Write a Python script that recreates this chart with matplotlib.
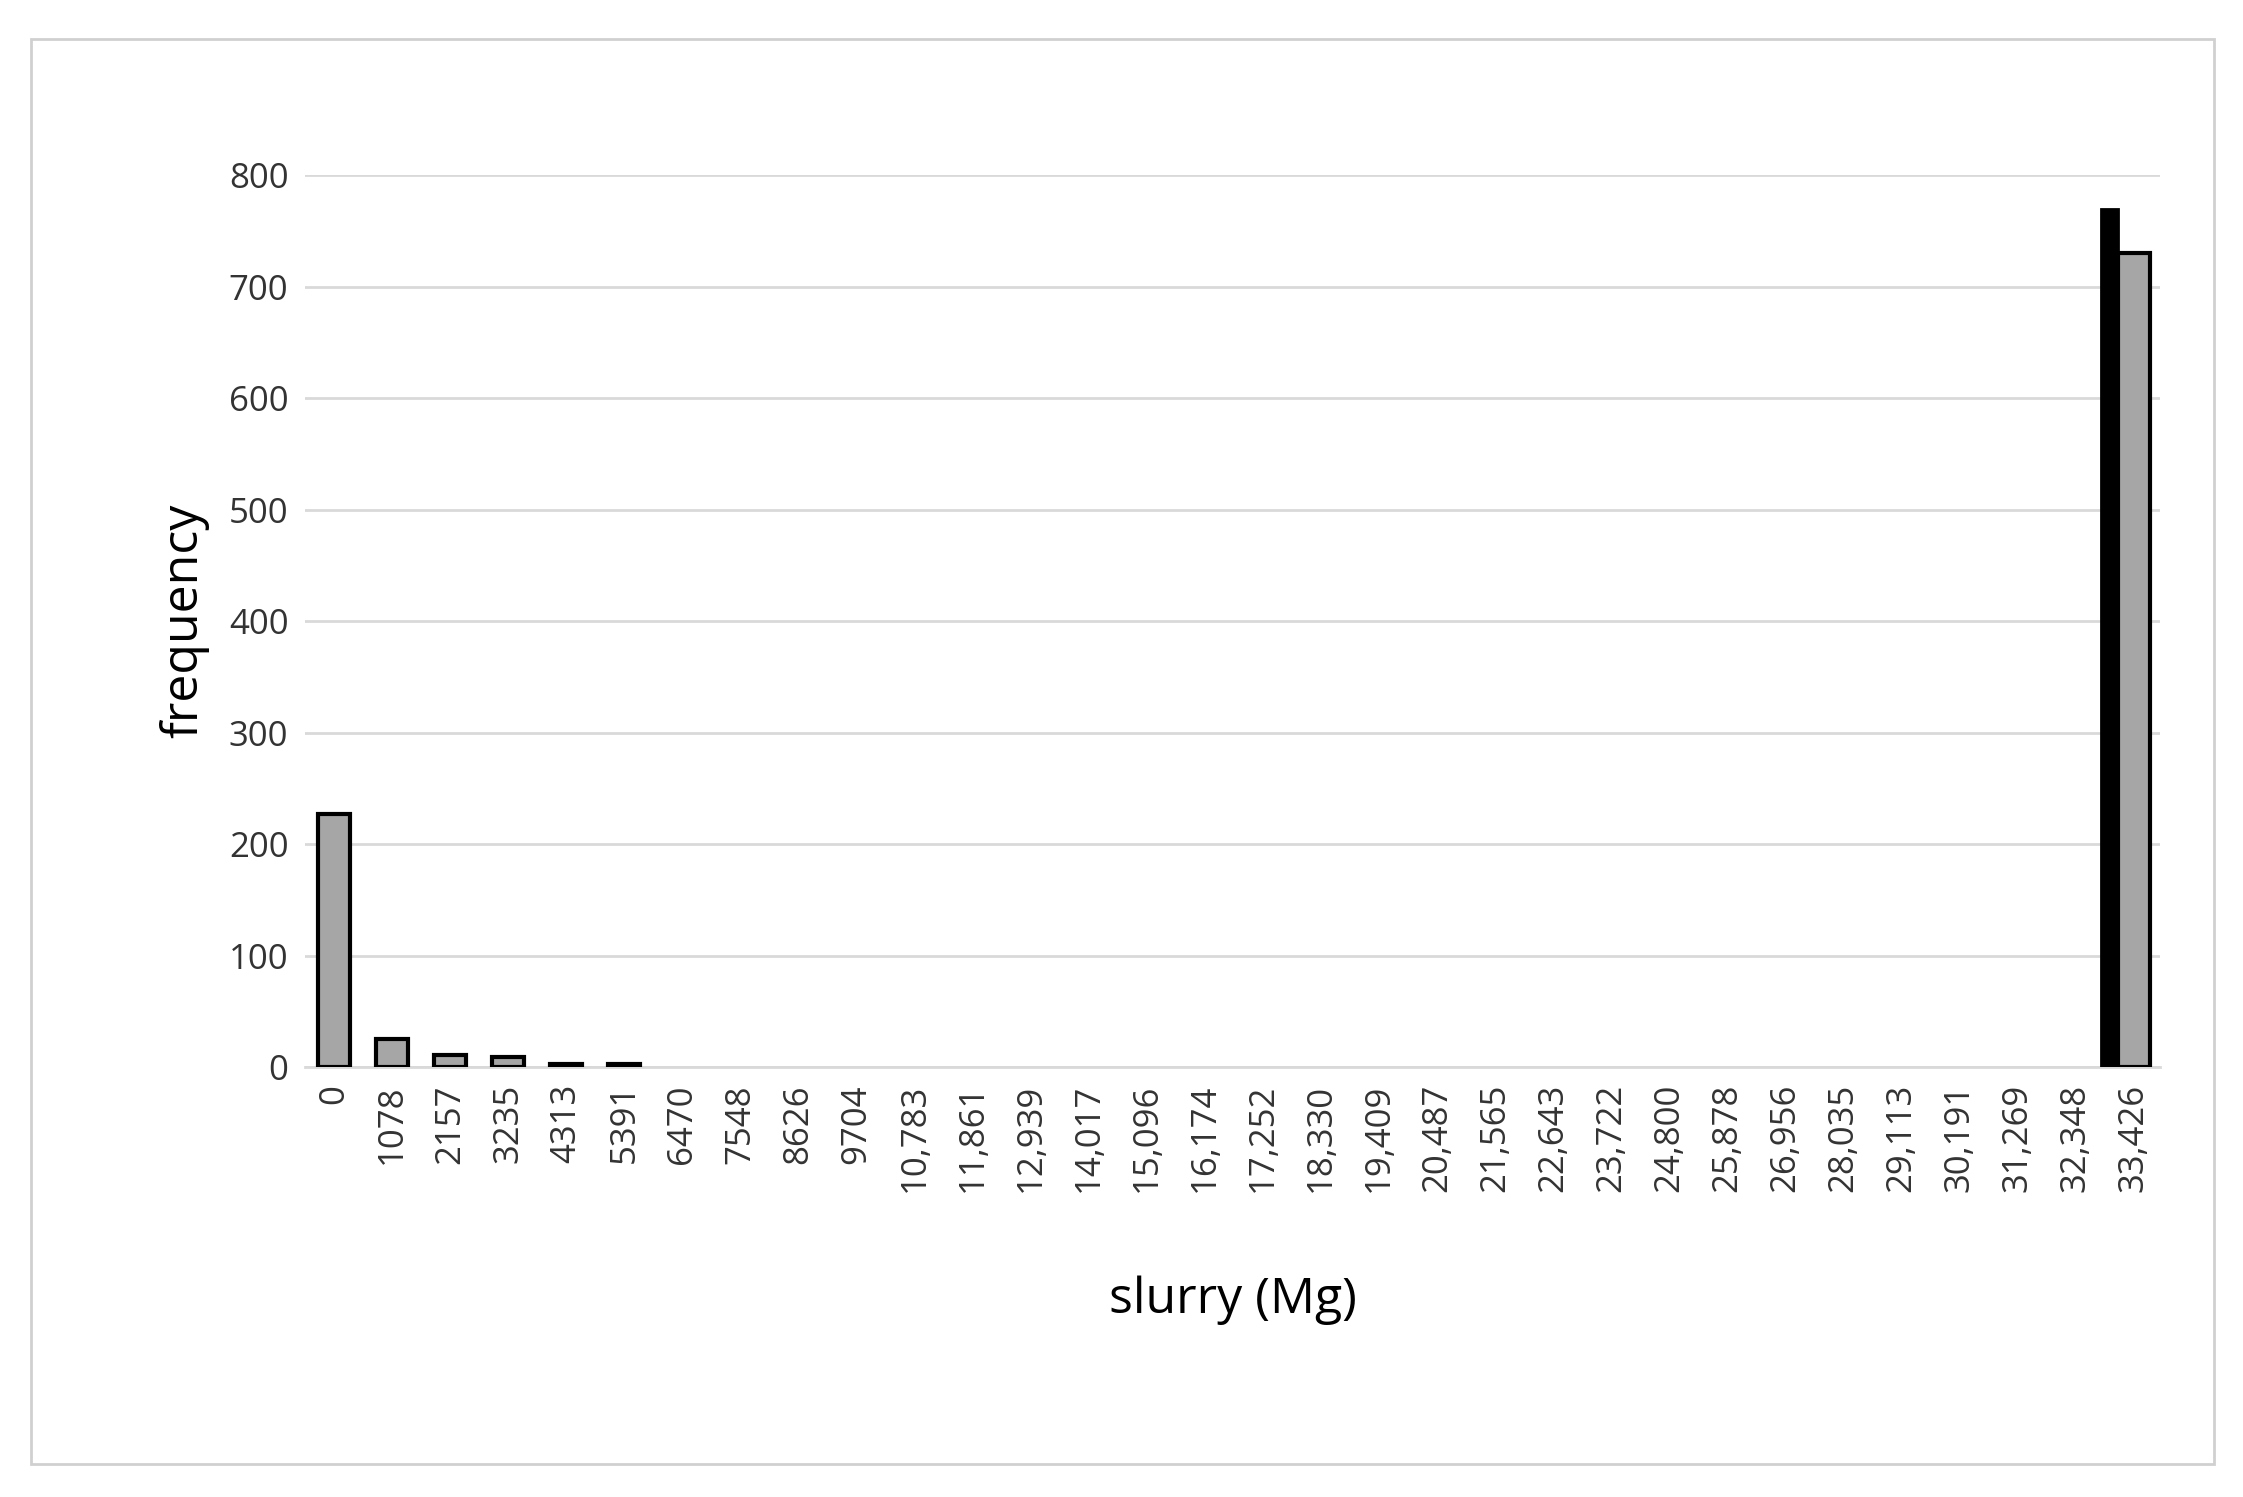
import matplotlib; matplotlib.use('Agg')
import matplotlib.pyplot as plt
from matplotlib.patches import Rectangle

plt.rcParams['font.family'] = ['Open Sans', 'DejaVu Sans']

labels = ['0', '1078', '2157', '3235', '4313', '5391', '6470', '7548', '8626', '9704',
          '10,783', '11,861', '12,939', '14,017', '15,096', '16,174', '17,252', '18,330',
          '19,409', '20,487', '21,565', '22,643', '23,722', '24,800', '25,878', '26,956',
          '28,035', '29,113', '30,191', '31,269', '32,348', '33,426']
freq = [227, 25, 11, 9, 3, 3] + [0] * 25 + [730]
extra_idx = 31          # black bar sits just left of the last category
extra_val = 770

fig = plt.figure(figsize=(22.43, 14.97), dpi=100)
fig.patches.append(Rectangle((0.014, 0.022), 0.973, 0.952, transform=fig.transFigure,
                             fill=False, ec='#d0d0d0', lw=2))
ax = fig.add_axes([0.136, 0.287, 0.827, 0.596])
x = list(range(len(labels)))
ax.bar(extra_idx - 0.42, extra_val, width=0.28, color='black', edgecolor='black', lw=2, zorder=3)
ax.bar([i for i, v in zip(x, freq) if v > 0], [v for v in freq if v > 0], width=0.55,
       color='#a6a6a6', edgecolor='black', lw=3, zorder=3)
ax.set_xlim(-0.5, 31.45)
ax.set_ylim(0, 800)
ax.set_yticks(range(0, 801, 100))
ax.set_xticks(x)
ax.set_xticklabels(labels, rotation=90)
ax.tick_params(length=0, labelsize=25, colors='#333333', pad=12)
ax.grid(axis='y', color='#d9d9d9', lw=2, zorder=0)
for s in ['top', 'right', 'left']:
    ax.spines[s].set_visible(False)
ax.spines['bottom'].set_color('#d9d9d9'); ax.spines['bottom'].set_linewidth(2)
ax.set_ylabel('frequency', fontsize=36, labelpad=14)
ax.set_xlabel('slurry (Mg)', fontsize=36, labelpad=60)
fig.savefig('out.png', dpi=100)
